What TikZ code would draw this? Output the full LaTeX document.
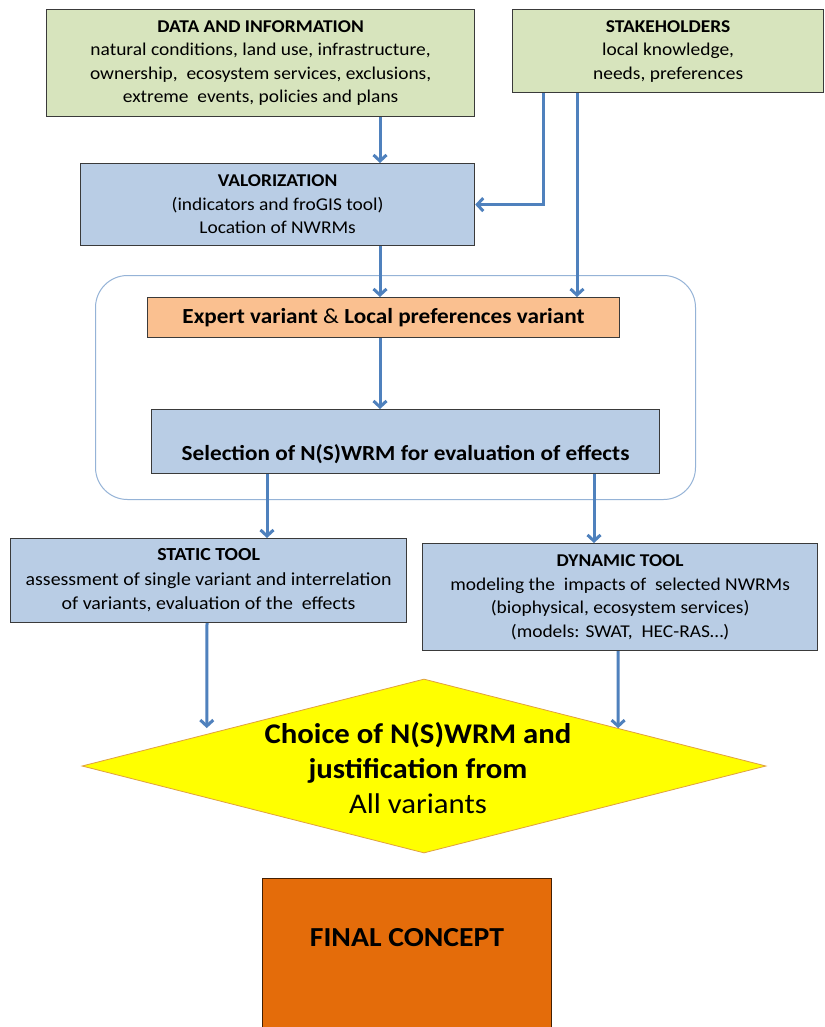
\documentclass[tikz,border=0pt]{standalone}
\usepackage{fontspec}
\setmainfont{Carlito}[FakeStretch=1.08]
\usetikzlibrary{arrows.meta,shapes.geometric,calc}
\definecolor{boxgreen}{HTML}{D7E4BD}
\definecolor{boxblue}{HTML}{B9CDE5}
\definecolor{boxpeach}{HTML}{FAC090}
\definecolor{arrowblue}{HTML}{4F81BD}
\definecolor{borderdark}{HTML}{3A3A3A}
\definecolor{contline}{HTML}{95B3D7}
\definecolor{finalorange}{HTML}{E46C0A}
\definecolor{dyellow}{HTML}{FFFF00}
\definecolor{dborder}{HTML}{E0A040}
\begin{document}
\begin{tikzpicture}[x=1pt,y=-1pt,
 box/.style={draw=borderdark, line width=1.2pt, anchor=north west, align=center, inner sep=0pt, text=black},
 greenbox/.style={box, fill=boxgreen},
 bluebox/.style={box, fill=boxblue},
 flow/.style={draw=arrowblue, line width=3pt, -{Straight Barb[length=6pt,width=13pt]}},
 bodyfont/.style={font=\fontsize{18}{23.5}\selectfont}
]
\useasboundingbox[fill=white] (0,0) rectangle (824,1027);

% columns for connectors
\coordinate (xA) at (380,0);
\coordinate (xB) at (543,0);
\coordinate (xC) at (577,0);
\coordinate (xD) at (267,0);
\coordinate (xE) at (594,0);
\coordinate (xF) at (207,0);
\coordinate (xG) at (618,0);

\node[greenbox, minimum width=428pt, minimum height=107pt, bodyfont] (data) at (46,9)
 {\textbf{DATA AND INFORMATION}\\natural conditions, land use, infrastructure,\\ownership, \ ecosystem services, exclusions,\\extreme \ events, policies and plans};

\node[greenbox, minimum width=311pt, minimum height=83pt, bodyfont] (stake) at (512,9)
 {\textbf{STAKEHOLDERS}\\local knowledge,\\needs, preferences};

\node[bluebox, minimum width=394pt, minimum height=82pt, bodyfont] (valor) at (80,163)
 {\textbf{VALORIZATION}\\(indicators and froGIS tool)\\Location of NWRMs};

\node[draw=contline, line width=1pt, rounded corners=32pt, anchor=north west,
      minimum width=600pt, minimum height=224pt] (cont) at (95,275) {};

\node[box, fill=boxpeach, minimum width=472pt, minimum height=40pt,
      font=\fontsize{21.5}{25}\selectfont\bfseries] (expert) at (147,297)
 {Expert variant \textmd{\&} Local preferences variant};

\node[bluebox, minimum width=508pt, text height=44pt, text depth=6pt, inner ysep=7pt,
      font=\fontsize{21.5}{25}\selectfont\bfseries] (sel) at (151,409)
 {Selection of N(S)WRM for evaluation of effects};

\node[bluebox, minimum width=396pt, minimum height=84pt, font=\fontsize{18.4}{24.5}\selectfont] (static) at (10,538)
 {\textbf{STATIC TOOL}\\assessment of single variant and interrelation\\of variants, evaluation of the \ effects};

\node[bluebox, minimum width=395pt, minimum height=107pt, font=\fontsize{18}{23.5}\selectfont] (dyn) at (422,543)
 {\textbf{DYNAMIC TOOL}\\modeling the \ impacts of \ selected NWRMs\\(biophysical, ecosystem services)\\(models: SWAT, \ HEC-RAS\dots)};

\node[diamond, draw=dborder, line width=0.8pt, fill=dyellow, minimum width=684pt, minimum height=174pt,
      inner sep=0pt, aspect=3.93,
      label={[align=center, font=\fontsize{28.5}{35}\selectfont, xshift=-6pt, yshift=-2pt]center:\textbf{Choice of N(S)WRM and}\\\textbf{justification from}\\All variants}] (dia) at (424,766) {};

\node[box, fill=finalorange, draw=black!70!finalorange, line width=1pt, minimum width=289pt,
      text height=63pt, text depth=84pt, inner ysep=5pt,
      font=\fontsize{27.5}{30}\selectfont\bfseries] (final) at (262,878) {FINAL CONCEPT};

% connectors
\draw[flow] (data.south -| xA) -- (valor.north -| xA);
\draw[flow] (stake.south -| xB) |- (valor.east);
\draw[flow] (stake.south -| xC) -- (expert.north -| xC);
\draw[flow] (valor.south -| xA) -- (expert.north -| xA);
\draw[flow] (expert.south -| xA) -- (sel.north -| xA);
\draw[flow] (sel.south -| xD) -- (static.north -| xD);
\draw[flow] (sel.south -| xE) -- (dyn.north -| xE);
\draw[flow, shorten >=6pt] (static.south -| xF) -- ($(dia.west)!0.3655!(dia.north)$);
\draw[flow] (dyn.south -| xG) -- ($(dia.north)!0.567!(dia.east)$);
\end{tikzpicture}
\end{document}
